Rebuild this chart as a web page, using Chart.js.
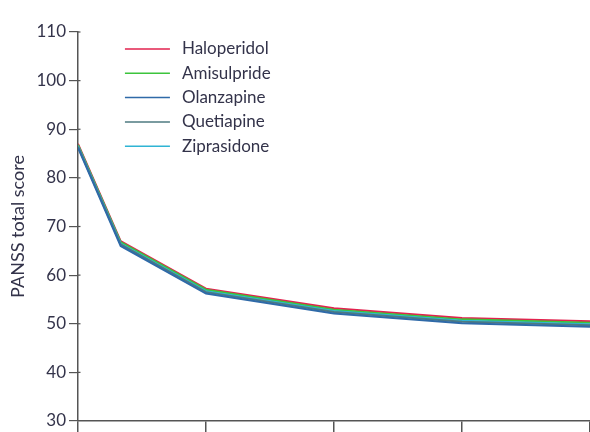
<!DOCTYPE html>
<html>
<head>
<meta charset="utf-8">
<script src="https://cdn.jsdelivr.net/npm/chart.js@4"></script>
<style>
  html, body { margin: 0; padding: 0; background: #fff; }
  #wrap { width: 590px; height: 432px; position: relative; }
</style>
</head>
<body>
<div id="wrap"><canvas id="c" width="590" height="432"></canvas></div>
<script>
// Months since randomisation at which PANSS was assessed
const months = [0, 1, 3, 6, 9, 12];

// Mean PANSS total score per treatment group
const haloperidol = [87.0, 67.0, 57.2, 53.2, 51.2, 50.5];
const amisulpride = [86.8, 66.8, 57.0, 52.9, 50.9, 50.2];
const olanzapine  = [86.2, 66.0, 56.2, 52.1, 50.1, 49.4];
const quetiapine  = [86.4, 66.3, 56.5, 52.4, 50.4, 49.7];
const ziprasidone = [86.6, 66.5, 56.7, 52.6, 50.6, 49.9];

const seriesNames = ['Haloperidol', 'Amisulpride', 'Olanzapine', 'Quetiapine', 'Ziprasidone'];
const seriesValues = [haloperidol, amisulpride, olanzapine, quetiapine, ziprasidone];
const seriesColors = ['#e2224e', '#3cc43c', '#2f6aa8', '#4e7a80', '#2fb4d4'];

// y-axis tick labels
const yTicks = [30, 40, 50, 60, 70, 80, 90, 100, 110];
// x-axis tick positions (months)
const xTicks = [0, 3, 6, 9, 12];

const FONT = 'Lato, "Open Sans", sans-serif';
const TEXT = '#33334a';
const AXIS = '#555555';

// Draw order: bottom line first so the upper lines sit on top
const drawOrder = [2, 3, 4, 1, 0];
const datasets = drawOrder.map(i => ({
  label: seriesNames[i],
  data: months.map((m, k) => ({ x: m, y: seriesValues[i][k] })),
  borderColor: seriesColors[i],
  backgroundColor: seriesColors[i],
  borderWidth: 2,
  pointRadius: 0,
  tension: 0,
  fill: false
}));

// Legend drawn inside the plot, upper left
const innerLegend = {
  id: 'innerLegend',
  afterDatasetsDraw(chart) {
    const ctx = chart.ctx;
    const x0 = chart.scales.x.getPixelForValue(1.1);
    const y0 = 49, step = 24.3;
    ctx.save();
    ctx.font = '17px ' + FONT;
    ctx.textBaseline = 'middle';
    seriesNames.forEach((name, i) => {
      const y = y0 + i * step;
      ctx.strokeStyle = seriesColors[i];
      ctx.lineWidth = 1.5;
      ctx.beginPath();
      ctx.moveTo(x0, y);
      ctx.lineTo(x0 + 45, y);
      ctx.stroke();
      ctx.fillStyle = TEXT;
      ctx.fillText(name, x0 + 57, y);
    });
    ctx.restore();
  }
};

// Tiny inward marks on the y axis at each tick
const innerTicks = {
  id: 'innerTicks',
  afterDraw(chart) {
    const ctx = chart.ctx;
    const ys = chart.scales.y;
    const x = chart.scales.x.getPixelForValue(0);
    ctx.save();
    ctx.strokeStyle = AXIS;
    ctx.lineWidth = 1.2;
    yTicks.slice(1).forEach(v => {
      const y = ys.getPixelForValue(v);
      ctx.beginPath();
      ctx.moveTo(x, y);
      ctx.lineTo(x + 2.5, y);
      ctx.stroke();
    });
    ctx.restore();
  }
};

new Chart(document.getElementById('c'), {
  type: 'line',
  data: { datasets },
  options: {
    responsive: false,
    animation: false,
    layout: { padding: { top: 32, right: 0, left: 0, bottom: 0 } },
    plugins: { legend: { display: false }, tooltip: { enabled: false } },
    scales: {
      x: {
        type: 'linear',
        min: 0, max: 12,
        afterBuildTicks(scale) { scale.ticks = xTicks.map(v => ({ value: v })); },
        afterFit(scale) { scale.height = 11; },
        ticks: { display: false },
        grid: { drawOnChartArea: false, tickLength: 11, color: AXIS, lineWidth: 1.5 },
        border: { color: AXIS, width: 1.5 }
      },
      y: {
        min: 30, max: 110,
        afterBuildTicks(scale) { scale.ticks = yTicks.map(v => ({ value: v })); },
        afterFit(scale) { scale.width = 78; },
        ticks: { color: TEXT, font: { family: FONT, size: 17, lineHeight: 0.9 }, padding: 3 },
        grid: { drawOnChartArea: false, tickLength: 9, color: AXIS, lineWidth: 1.2 },
        border: { color: AXIS, width: 1.5 },
        title: {
          display: true,
          text: 'PANSS total score',
          color: TEXT,
          font: { family: FONT, size: 18 },
          padding: { top: 7, bottom: 0 }
        }
      }
    }
  },
  plugins: [innerLegend, innerTicks]
});
</script>
</body>
</html>
